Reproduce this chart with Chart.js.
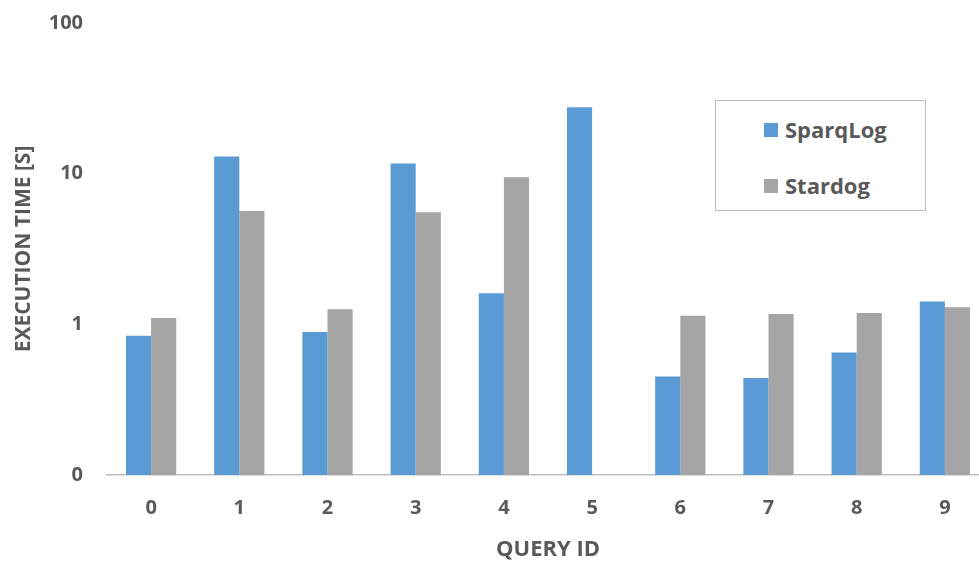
<!DOCTYPE html>
<html>
<head>
<meta charset="utf-8">
<script src="https://cdn.jsdelivr.net/npm/chart.js@4.4.1/dist/chart.umd.min.js"></script>
<style>
    html, body { margin: 0; padding: 0; background: #fff; overflow: hidden; width: 979px; height: 561px; }
    #wrap { position: relative; width: 979px; height: 561px; overflow: hidden; }
    #timeChart { position: absolute; left: 0; top: -5px; }
    #legend {
        position: absolute; left: 715px; top: 100px; width: 209px; height: 109px;
        border: 1.5px solid #BFBFBF; background: #fff;
        font-family: "Open Sans", sans-serif; font-weight: bold; font-size: 22px; color: #595959;
    }
    .item { position: absolute; left: 48px; height: 30px; line-height: 30px; white-space: nowrap; }
    .swatch { display: inline-block; width: 14px; height: 14px; margin-right: 7px; vertical-align: 1px; }
</style>
</head>
<body>
<div id="wrap">
    <canvas id="timeChart" width="992" height="566"></canvas>
    <div id="legend"></div>
</div>
<script>
const queryIds = ['0', '1', '2', '3', '4', '5', '6', '7', '8', '9'];
const sparqLogTimes = [0.84, 13.0, 0.89, 11.7, 1.61, 27.6, 0.45, 0.44, 0.65, 1.42];
const stardogTimes = [1.10, 5.66, 1.26, 5.54, 9.46, null, 1.14, 1.17, 1.19, 1.30];
const yTicks = [0.1, 1, 10, 100];

const textColor = '#595959';
const seriesColors = ['#5B9BD5', '#A5A5A5'];

function loadTimeChart() {
    const ctx = document.getElementById('timeChart').getContext('2d');
    const chart = new Chart(ctx, {
        type: 'bar',
        data: {
            labels: queryIds,
            datasets: [
                { label: 'SparqLog', data: sparqLogTimes, backgroundColor: seriesColors[0] },
                { label: 'Stardog', data: stardogTimes, backgroundColor: seriesColors[1] }
            ]
        },
        options: {
            responsive: false,
            animation: false,
            layout: { padding: { top: 0, right: 3, left: 0, bottom: 0 } },
            datasets: { bar: { barPercentage: 1, categoryPercentage: 0.57 } },
            plugins: { legend: { display: false }, tooltip: { enabled: false } },
            scales: {
                x: {
                    grid: { display: false },
                    border: { display: true, color: '#BFBFBF', width: 1.5 },
                    ticks: { color: textColor, padding: 13, font: { family: 'Open Sans', size: 20, weight: 'bold' } },
                    title: {
                        display: true, text: 'QUERY ID', color: textColor,
                        font: { family: 'Open Sans', size: 22, weight: 'bold', lineHeight: 1 },
                        padding: { top: 0, bottom: 0 }
                    },
                    afterFit: scale => { scale.height = 86; }
                },
                y: {
                    type: 'logarithmic',
                    min: 0.1,
                    max: 100,
                    grid: { display: false },
                    border: { display: false },
                    afterBuildTicks: scale => { scale.ticks = yTicks.map(v => ({ value: v })); },
                    ticks: {
                        color: textColor, padding: 16,
                        font: { family: 'Open Sans', size: 20, weight: 'bold' },
                        callback: value => value === 0.1 ? '0' : String(value)
                    },
                    title: {
                        display: true, text: 'EXECUTION TIME [S]', color: textColor,
                        font: { family: 'Open Sans', size: 21, weight: 'bold' },
                        padding: { top: 11, bottom: 0 }
                    },
                    afterFit: scale => { scale.width = 107; }
                }
            }
        }
    });

    // legend box built from the datasets
    const legend = document.getElementById('legend');
    chart.data.datasets.forEach((ds, i) => {
        const item = document.createElement('div');
        item.className = 'item';
        item.style.top = (13 + i * 56) + 'px';
        item.innerHTML = '<span class="swatch" style="background:' + ds.backgroundColor + '"></span>' + ds.label;
        legend.appendChild(item);
    });
}

loadTimeChart();
</script>
</body>
</html>
